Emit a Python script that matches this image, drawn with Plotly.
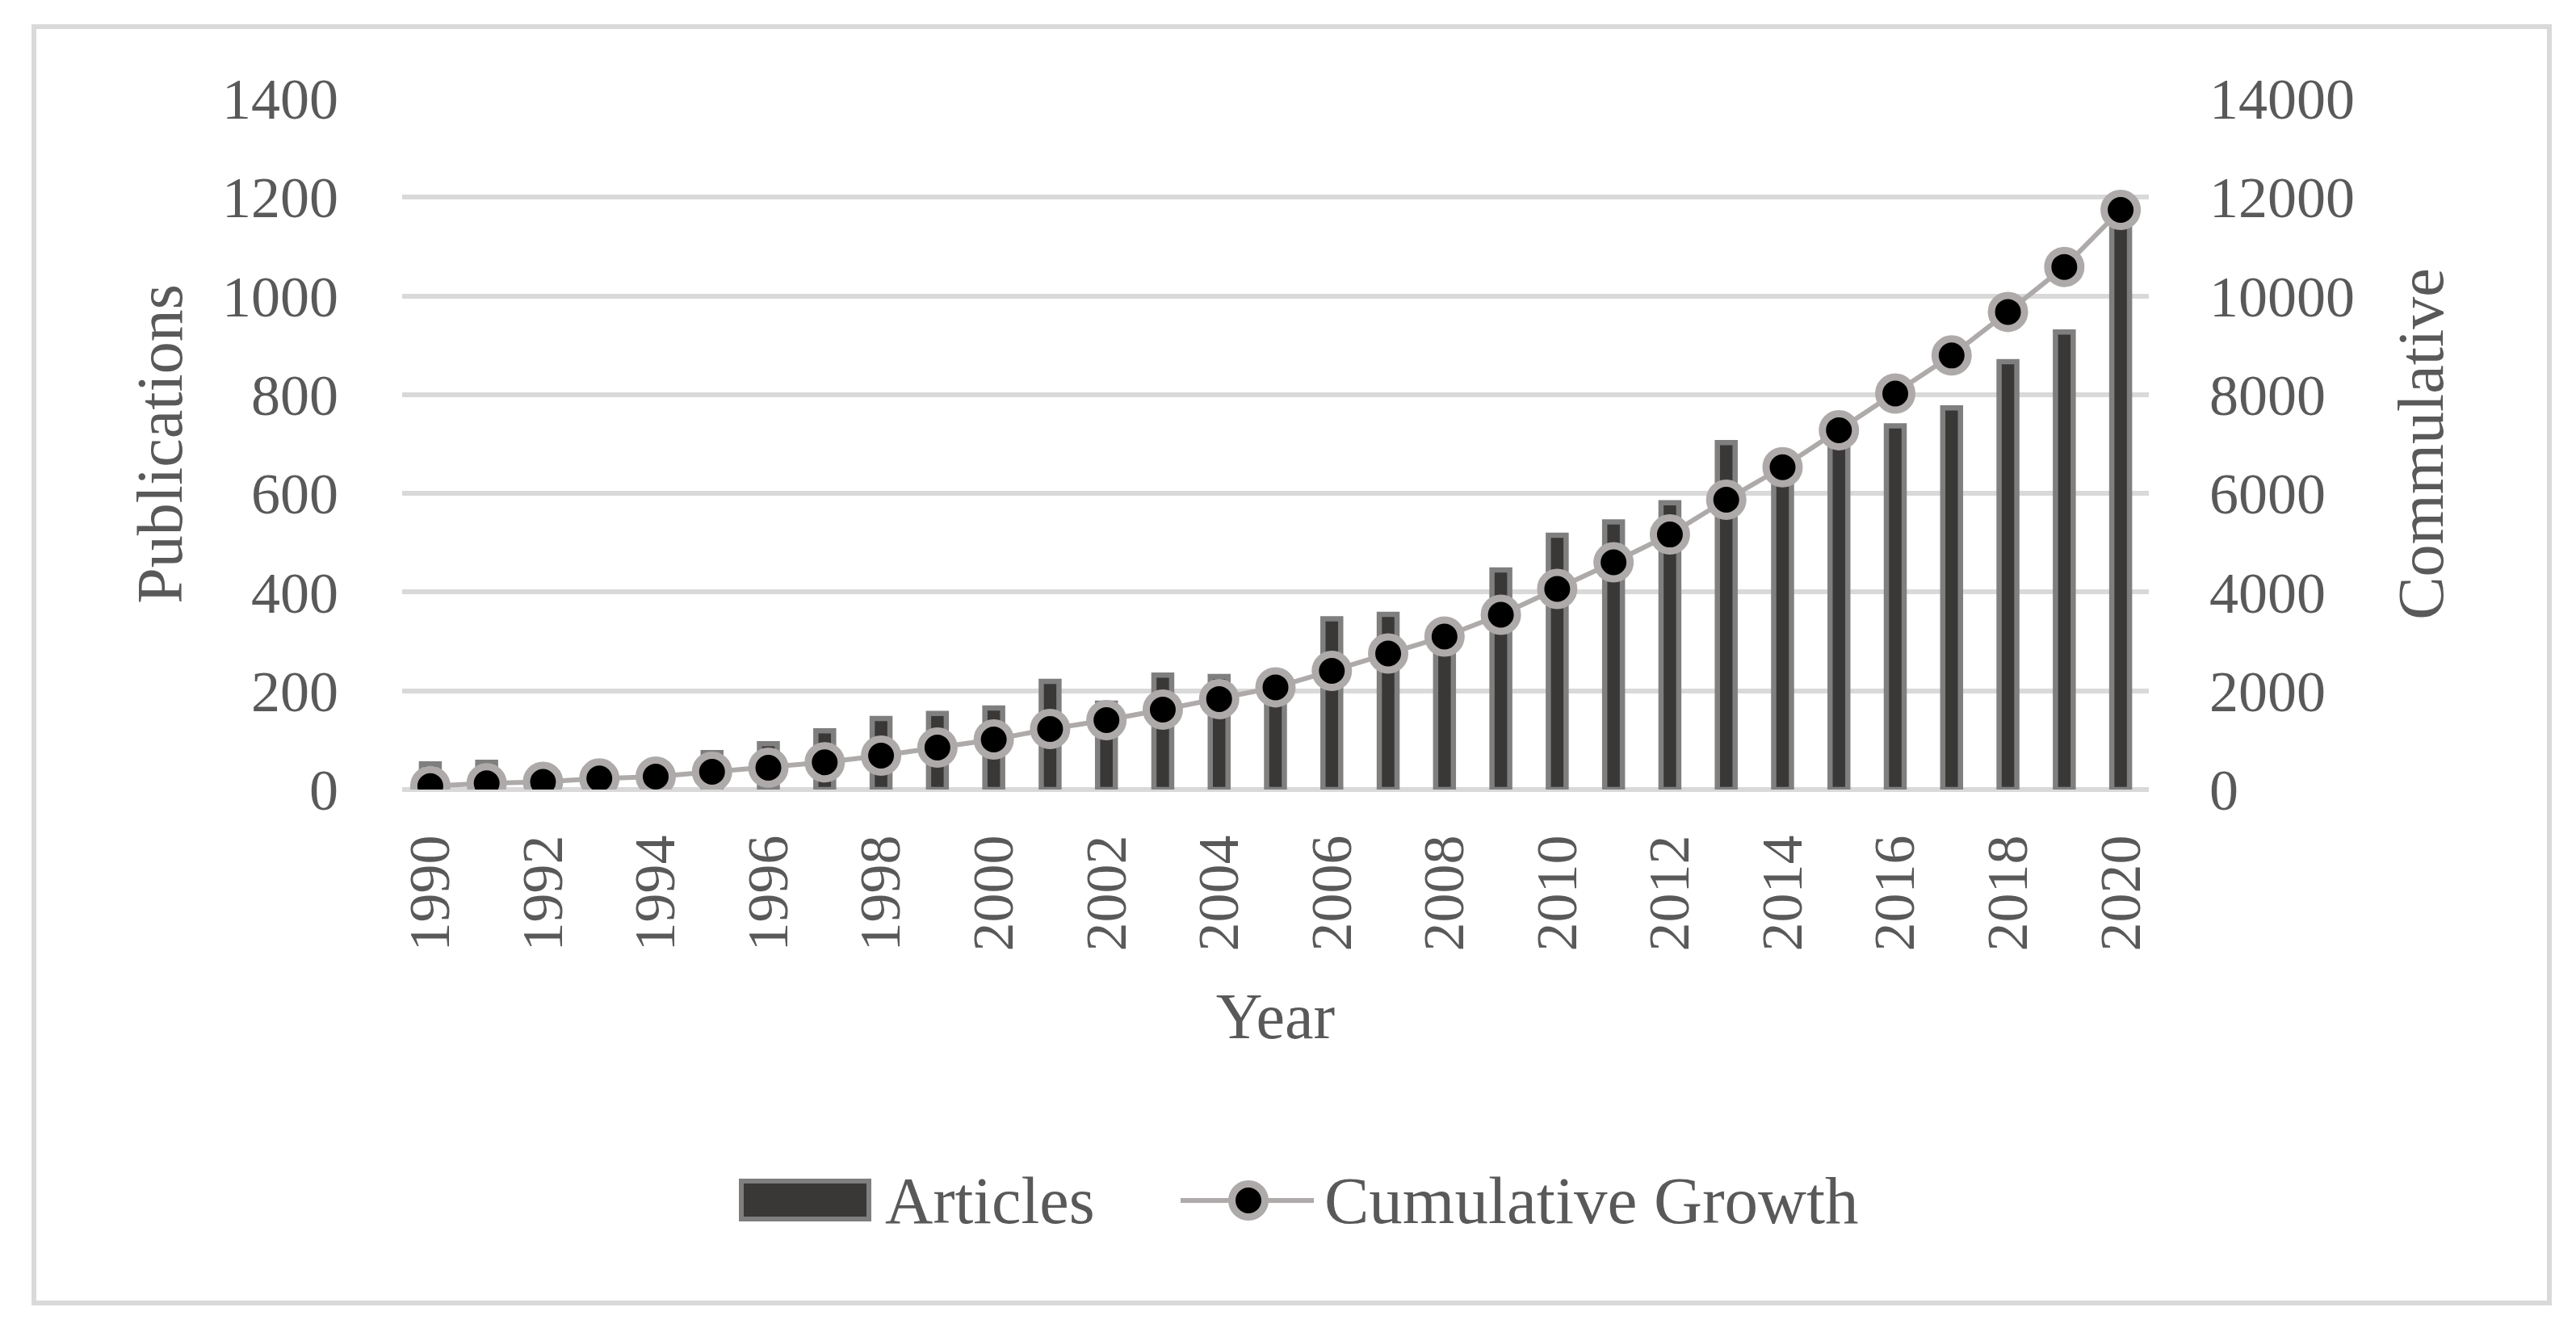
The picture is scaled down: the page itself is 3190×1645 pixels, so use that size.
import plotly.graph_objects as go

years = list(range(1990, 2021))
articles = [52, 55, 35, 45, 40, 75, 93, 119, 144, 154, 165, 219, 175, 232, 229, 235,
            346, 355, 310, 445, 515, 542, 581, 703, 650, 740, 737, 773, 867, 927, 1160]
cumulative = [70, 125, 155, 223, 262, 360, 442, 552, 687, 850, 1014, 1227, 1407, 1620,
              1833, 2070, 2405, 2755, 3099, 3540, 4065, 4603, 5167, 5871, 6529, 7280,
              8023, 8793, 9676, 10587, 11743]
x_tick_years = years[::2]
left_ticks = [0, 200, 400, 600, 800, 1000, 1200, 1400]
right_ticks = [0, 2000, 4000, 6000, 8000, 10000, 12000, 14000]
series_names = ["Articles", "Cumulative Growth"]

W, H = 3190, 1645
L, R, T, B = 498, 529, 122, 667
pw, ph = W - L - R, H - T - B

FONT = "Liberation Serif"
TXT = "#595959"
GRID = "#d9d9d9"
BAR_FILL, BAR_EDGE = "#3a3836", "#7f7f7f"
LINE_C = "#aeaaaa"

fig = go.Figure()
fig.add_trace(go.Bar(
    x=years, y=articles, name=series_names[0], showlegend=False,
    marker=dict(color=BAR_FILL, line=dict(color=BAR_EDGE, width=6.5)),
))
fig.add_trace(go.Scatter(
    x=years, y=cumulative, name=series_names[1], yaxis="y2", showlegend=False,
    mode="lines+markers",
    line=dict(color=LINE_C, width=6),
    marker=dict(color="black", size=41, line=dict(color=LINE_C, width=9)),
))

def px_x(p):
    return (p - L) / pw

def px_y(p):
    return (T + ph - p) / ph

# legend drawn as shapes + text (large symbols like the original)
leg_y = 1487
shapes = [
    dict(type="rect", xref="paper", yref="paper",
         x0=px_x(42), x1=px_x(3157), y0=px_y(1614), y1=px_y(33),
         line=dict(color=GRID, width=6), fillcolor="rgba(0,0,0,0)", layer="below"),
    dict(type="rect", xref="paper", yref="paper",
         x0=px_x(918), x1=px_x(1076), y0=px_y(1510), y1=px_y(1463),
         line=dict(color=BAR_EDGE, width=6), fillcolor=BAR_FILL),
    dict(type="line", xref="paper", yref="paper",
         x0=px_x(1462), x1=px_x(1627), y0=px_y(leg_y), y1=px_y(leg_y),
         line=dict(color=LINE_C, width=6)),
    dict(type="circle", xref="paper", yref="paper",
         x0=px_x(1546 - 20.5), x1=px_x(1546 + 20.5),
         y0=px_y(leg_y + 20.5), y1=px_y(leg_y - 20.5),
         line=dict(color=LINE_C, width=9), fillcolor="black"),
]
annotations = [
    dict(text=series_names[0], xref="paper", yref="paper", x=px_x(1094), y=px_y(leg_y),
         xanchor="left", yanchor="middle", showarrow=False,
         font=dict(family=FONT, size=82, color=TXT)),
    dict(text=series_names[1], xref="paper", yref="paper", x=px_x(1638), y=px_y(leg_y),
         xanchor="left", yanchor="middle", showarrow=False,
         font=dict(family=FONT, size=83, color=TXT)),
]

fig.update_layout(
    width=W, height=H,
    margin=dict(l=L, r=R, t=T, b=B, autoexpand=False),
    paper_bgcolor="white", plot_bgcolor="white",
    font=dict(family=FONT, size=72, color=TXT),
    bargap=0.685,
    showlegend=False,
    shapes=shapes,
    annotations=annotations,
    xaxis=dict(
        range=[1989.5, 2020.5], tickmode="array", tickvals=x_tick_years,
        ticktext=[str(y) for y in x_tick_years], tickangle=-90,
        showgrid=False, zeroline=False, showline=False, ticks="",
        ticklabelstandoff=41,
        tickfont=dict(size=72, color=TXT, family=FONT),
        title=dict(text="Year", font=dict(size=80, color=TXT, family=FONT), standoff=52),
    ),
    yaxis=dict(
        range=[0, 1400], tickmode="array", tickvals=left_ticks,
        ticktext=[str(v) for v in left_ticks],
        showgrid=True, gridcolor=GRID, gridwidth=6,
        zeroline=True, zerolinecolor=GRID, zerolinewidth=6,
        showline=False, ticks="", ticklabelstandoff=78,
        tickfont=dict(size=72, color=TXT, family=FONT),
        title=dict(text="Publications", font=dict(size=80, color=TXT, family=FONT), standoff=23),
    ),
    yaxis2=dict(
        range=[0, 14000], tickmode="array", tickvals=right_ticks,
        ticktext=[str(v) for v in right_ticks],
        overlaying="y", side="right", showgrid=False, zeroline=False,
        showline=False, ticks="", ticklabelstandoff=74,
        tickfont=dict(size=72, color=TXT, family=FONT),
        title=dict(text="Commulative", font=dict(size=80, color=TXT, family=FONT), standoff=53),
    ),
)

fig.write_html("out.html", config={"displayModeBar": False},
               post_script="document.body.style.margin='0';")
